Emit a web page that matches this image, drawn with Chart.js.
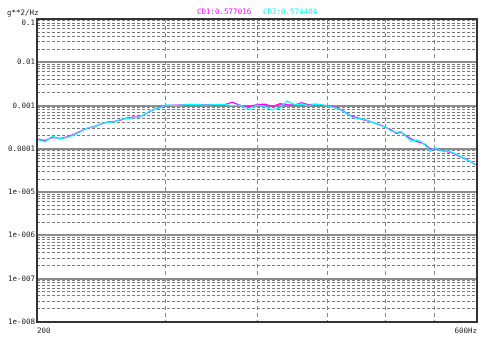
<!DOCTYPE html>
<html>
<head>
<meta charset="utf-8">
<script src="https://cdn.jsdelivr.net/npm/chart.js@4/dist/chart.umd.min.js"></script>
<style>
html,body{margin:0;padding:0;background:#fff;overflow:hidden;}
#c{display:block;}
</style>
</head>
<body>
<canvas id="c" width="482" height="337"></canvas>
<script>
// ---- data ----
const freqs = [200,205,210,215,220,225,230,235,240,245,250,255,260,265,270,275,280,285,290,295,300,
  310,320,330,340,350,360,370,380,390,400,410,420,430,440,450,460,470,480,490,500,
  510,520,530,540,550,560,570,580,590,600,610,620,630,640,650,660,670,680,690,700,
  710,720,730,740,750,760,770,780,790,800];
const cd1 = [1.7e-4,1.55e-4,1.85e-4,1.75e-4,1.9e-4,2.2e-4,2.6e-4,3.0e-4,3.3e-4,3.8e-4,4.2e-4,4.3e-4,4.6e-4,5.1e-4,5.4e-4,5.4e-4,6.0e-4,7.3e-4,8.3e-4,9.2e-4,1.0e-3,
  1.02e-3,1.03e-3,1.05e-3,1.04e-3,1.03e-3,1.02e-3,1.2e-3,1.0e-3,0.95e-3,1.05e-3,1.08e-3,0.95e-3,1.1e-3,1.05e-3,1.03e-3,1.17e-3,1.05e-3,1.06e-3,1.02e-3,0.98e-3,
  0.92e-3,0.82e-3,0.68e-3,0.56e-3,0.52e-3,0.47e-3,0.44e-3,0.39e-3,0.36e-3,0.31e-3,0.28e-3,0.23e-3,0.24e-3,0.20e-3,0.17e-3,0.15e-3,0.14e-3,0.125e-3,0.1e-3,0.1e-3,
  0.098e-3,0.09e-3,0.085e-3,0.082e-3,0.072e-3,0.064e-3,0.06e-3,0.053e-3,0.046e-3,0.042e-3];
const cd2 = [1.65e-4,1.45e-4,1.95e-4,1.7e-4,1.85e-4,2.1e-4,2.55e-4,3.1e-4,3.2e-4,3.9e-4,4.1e-4,4.2e-4,4.8e-4,5.0e-4,5.2e-4,5.3e-4,6.2e-4,7.4e-4,8.2e-4,9.0e-4,1.03e-3,
  1.0e-3,1.05e-3,1.06e-3,1.02e-3,1.05e-3,1.07e-3,1.0e-3,1.02e-3,0.82e-3,1.02e-3,0.95e-3,0.8e-3,0.88e-3,1.28e-3,1.05e-3,1.08e-3,1.0e-3,1.08e-3,1.05e-3,0.97e-3,
  0.9e-3,0.8e-3,0.66e-3,0.54e-3,0.5e-3,0.49e-3,0.43e-3,0.4e-3,0.35e-3,0.32e-3,0.26e-3,0.24e-3,0.25e-3,0.19e-3,0.15e-3,0.16e-3,0.15e-3,0.12e-3,0.087e-3,0.107e-3,
  0.095e-3,0.087e-3,0.09e-3,0.083e-3,0.075e-3,0.066e-3,0.058e-3,0.052e-3,0.047e-3,0.043e-3];
const xTickValues = [200,300,400,500,600,700,800];
const xTickLabels = ['200','','','','','','600Hz'];
const yTickValues = [1e-8,1e-7,1e-6,1e-5,1e-4,1e-3,1e-2,1e-1];
const yTickLabels = ['1e-008','1e-007','1e-006','1e-005','0.0001','0.001','0.01','0.1'];
const seriesNames = ['CD1:0.577016','CD2:0.574404'];
const seriesColors = ['#ff00ff','#00ffff'];
const yUnit = 'g**2/Hz';

// ---- chart ----
const FONT = "'DejaVu Sans Mono', monospace";
const minorTicks = [];
for (let d = 0; d < yTickValues.length - 1; d++) {
  for (let m = 2; m <= 9; m++) minorTicks.push({value: yTickValues[d] * m});
}

const overlay = {
  id: 'overlay',
  afterDraw(chart) {
    const {ctx, chartArea: a} = chart;
    ctx.save();
    ctx.strokeStyle = '#333';
    ctx.lineWidth = 2;
    ctx.strokeRect(a.left, a.top, a.right - a.left, a.bottom - a.top);
    ctx.font = "7.5px " + FONT;
    ctx.textBaseline = 'middle';
    ctx.textAlign = 'left';
    ctx.fillStyle = '#222';
    ctx.fillText(yUnit, 7, 13);
    ctx.fillStyle = seriesColors[0];
    ctx.fillText(seriesNames[0], 197, 12);
    ctx.fillStyle = seriesColors[1];
    ctx.fillText(seriesNames[1], 263, 12);
    ctx.restore();
  }
};

new Chart(document.getElementById('c'), {
  type: 'line',
  data: {
    datasets: [
      {label: seriesNames[1], data: freqs.map((f,i)=>({x:f, y:cd2[i]})), borderColor: seriesColors[1], borderWidth: 1.3, pointRadius: 0, tension: 0, order: 0},
      {label: seriesNames[0], data: freqs.map((f,i)=>({x:f, y:cd1[i]})), borderColor: seriesColors[0], borderWidth: 1.3, pointRadius: 0, tension: 0, order: 1}
    ]
  },
  options: {
    responsive: false,
    animation: false,
    devicePixelRatio: 1,
    layout: {padding: {top: 19, right: 5, bottom: 0, left: 0}},
    plugins: {legend: {display: false}, tooltip: {enabled: false}, title: {display: false}},
    scales: {
      x: {
        type: 'logarithmic', min: 200, max: 800,
        afterBuildTicks: s => { s.ticks = xTickValues.map(v => ({value: v})); },
        afterFit: s => { s.height = 15; },
        ticks: {autoSkip: false, maxRotation: 0, minRotation: 0, align: 'inner', padding: 5, color: '#222',
          font: {family: FONT, size: 7.5}, callback: (v, i) => xTickLabels[i]},
        grid: {drawTicks: false, lineWidth: 1, borderDash: [4,3],
          color: c => (c.index === 0 || c.index === xTickValues.length - 1) ? 'rgba(0,0,0,0)' : '#8a8a8a'},
        border: {display: false, dash: [4,3]}
      },
      y: {
        type: 'logarithmic', position: 'left', min: 1e-8, max: 0.1,
        afterBuildTicks: s => { s.ticks = yTickValues.map(v => ({value: v})); },
        afterFit: s => { s.width = 37; },
        ticks: {autoSkip: false, padding: 2, color: '#222', font: {family: FONT, size: 7.5},
          callback: (v, i) => (i === yTickLabels.length - 1) ? ['', yTickLabels[i]] : yTickLabels[i]},
        grid: {drawTicks: false, lineWidth: 2, color: '#8c8c8c'},
        border: {display: false}
      },
      y2: {
        type: 'logarithmic', position: 'left', min: 1e-8, max: 0.1,
        afterBuildTicks: s => { s.ticks = minorTicks.slice(); },
        afterFit: s => { s.width = 0; },
        ticks: {display: false},
        grid: {drawTicks: false, lineWidth: 1, color: '#7a7a7a', borderDash: [3,2]},
        border: {display: false, dash: [3,2]}
      }
    }
  },
  plugins: [overlay]
});
</script>
</body>
</html>
